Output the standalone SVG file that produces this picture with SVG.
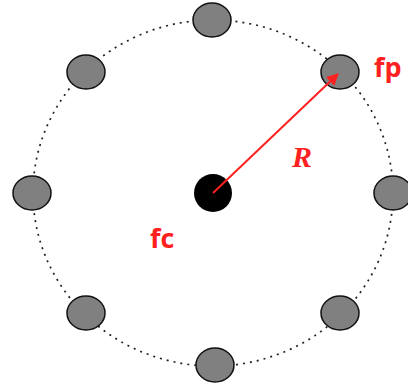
<svg xmlns="http://www.w3.org/2000/svg" width="408" height="392" viewBox="0 0 408 392">
<style>
.ring{fill:none;stroke:#222;stroke-width:1.7;stroke-dasharray:2 5}
.pt{fill:#808080;stroke:#111;stroke-width:1.5}
.lbl{font-family:"Open Sans","Liberation Sans",Arial,sans-serif;font-weight:bold;font-size:27px;fill:#ff2020}
.r{font-family:"Liberation Serif","Times New Roman",serif;font-weight:bold;font-style:italic;font-size:30px;fill:#ff2020}
</style>
<defs>
<marker id="ah" viewBox="0 0 10 10" refX="9" refY="5" markerWidth="7" markerHeight="6" orient="auto" markerUnits="strokeWidth">
<path d="M0,0 L10,5 L0,10 z" fill="#ff2020"/>
</marker>
</defs>
<g id="ring"><ellipse class="ring" cx="213" cy="193" rx="180" ry="173"/></g>
<g id="fc"><circle cx="213" cy="193" r="19" fill="#000"/></g>
<g id="p1"><ellipse class="pt" cx="212" cy="20" rx="19" ry="17"/></g>
<g id="p2"><ellipse class="pt" cx="340" cy="72" rx="19" ry="17"/></g>
<g id="p3"><ellipse class="pt" cx="393" cy="193" rx="19" ry="17"/></g>
<g id="p4"><ellipse class="pt" cx="340" cy="313" rx="19" ry="17"/></g>
<g id="p5"><ellipse class="pt" cx="215" cy="365" rx="19" ry="17"/></g>
<g id="p6"><ellipse class="pt" cx="86" cy="313" rx="19" ry="17"/></g>
<g id="p7"><ellipse class="pt" cx="32" cy="193" rx="19" ry="17"/></g>
<g id="p8"><ellipse class="pt" cx="86" cy="72" rx="19" ry="17"/></g>
<g id="connectors">
<line x1="213" y1="193" x2="338" y2="74" stroke="#ff2020" stroke-width="2" marker-end="url(#ah)"/>
</g>
<text class="lbl" x="374" y="77">fp</text>
<text class="lbl" x="150" y="248">fc</text>
<text class="r" x="292" y="167">R</text>
</svg>
